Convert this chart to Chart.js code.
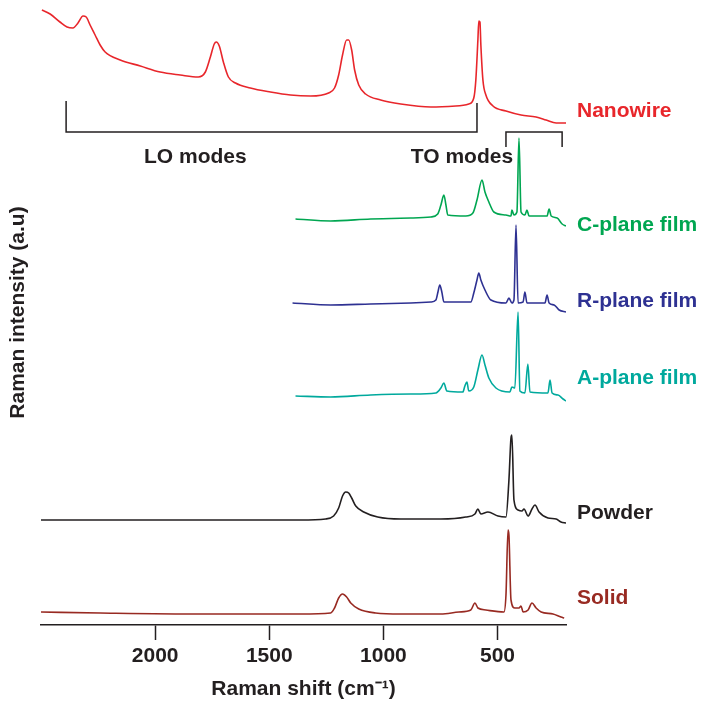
<!DOCTYPE html>
<html>
<head>
<meta charset="utf-8">
<script src="https://cdn.jsdelivr.net/npm/chart.js@4/dist/chart.umd.min.js"></script>
<style>
  html, body { margin: 0; padding: 0; background: #fff; }
  #wrap { width: 702px; height: 703px; }
</style>
</head>
<body>
<div id="wrap"><canvas id="chart"></canvas></div>
<script>
// Raman shift (cm-1) and stacked intensity (a.u.)
const nanowireShift = [2496, 2460, 2417, 2386, 2360, 2338, 2316, 2302, 2285, 2263, 2241, 2219, 2153, 2065, 1978, 1890, 1811, 1780, 1758, 1741, 1732, 1719, 1701, 1679, 1648, 1583, 1495, 1407, 1319, 1240, 1214, 1196, 1179, 1161, 1152, 1139, 1126, 1108, 1078, 1012, 924, 792, 683, 626, 604, 595, 586, 582, 577, 573, 564, 551, 520, 463, 397, 331, 287, 243, 200];
const nanowireInt = [615, 611, 603, 598, 597, 602, 609, 608, 600, 590, 580, 573, 565, 559, 553, 550, 548, 553, 568, 581, 583, 579, 563, 548, 542, 537, 533, 530, 529, 532, 537, 550, 570, 585, 585, 575, 555, 540, 531, 525, 521, 518, 519, 521, 527, 545, 585, 604, 603, 580, 545, 530, 519, 514, 510, 508, 505, 502, 502];

const cPlaneShift = [1385, 1231, 1056, 880, 792, 762, 748, 735, 726, 718, 639, 608, 590, 568, 555, 538, 516, 463, 441, 437, 428, 415, 406, 397, 380, 371, 362, 283, 274, 265, 239, 217, 200];
const cPlaneInt = [406, 404, 406, 407, 408, 411, 420, 430, 420, 410, 409, 412, 425, 445, 433, 423, 413, 410, 409, 415, 410, 413, 487, 413, 410, 415, 409, 409, 416, 409, 407, 401, 399];

const rPlaneShift = [1398, 1231, 1056, 880, 792, 770, 761, 753, 744, 735, 617, 604, 590, 582, 573, 555, 529, 463, 450, 437, 428, 419, 410, 388, 380, 371, 292, 283, 274, 252, 230, 200];
const rPlaneInt = [322, 320, 321, 322, 323, 325, 333, 340, 333, 323, 323, 332, 345, 352, 345, 335, 325, 322, 327, 322, 325, 400, 322, 323, 333, 322, 322, 330, 322, 320, 315, 313];

const aPlaneShift = [1385, 1231, 1056, 880, 770, 748, 735, 722, 652, 643, 634, 626, 604, 586, 568, 555, 538, 507, 446, 437, 424, 410, 402, 380, 367, 358, 279, 270, 261, 235, 213, 200];
const aPlaneInt = [229, 228, 230, 231, 232, 237, 242, 234, 233, 239, 243, 234, 238, 255, 270, 260, 247, 237, 233, 238, 237, 313, 234, 232, 261, 233, 232, 245, 232, 230, 226, 224];

const powderShift = [2500, 2241, 1802, 1363, 1253, 1218, 1196, 1179, 1165, 1152, 1139, 1121, 1086, 1025, 924, 748, 639, 599, 586, 573, 542, 498, 463, 450, 441, 437, 428, 410, 393, 384, 366, 349, 336, 318, 279, 243, 222, 200];
const powderInt = [105, 105, 105, 105, 106, 109, 117, 129, 133, 132, 127, 119, 113, 108, 106, 106, 108, 111, 116, 111, 113, 109, 108, 145, 187, 190, 125, 115, 114, 116, 109, 116, 120, 113, 107, 106, 103, 102];

const solidShift = [2500, 2241, 1802, 1363, 1231, 1214, 1196, 1179, 1161, 1143, 1108, 1034, 924, 748, 669, 617, 599, 586, 551, 472, 463, 454, 450, 441, 424, 406, 397, 388, 366, 349, 331, 309, 257, 222, 208];
const solidInt = [13, 12, 11, 11, 12, 17, 27, 31, 28, 22, 16, 12, 11, 11, 13, 15, 22, 17, 15, 13, 30, 95, 90, 25, 17, 17, 19, 13, 15, 22, 17, 13, 11, 8, 7];

const seriesNames = ['Nanowire', 'C-plane film', 'R-plane film', 'A-plane film', 'Powder', 'Solid'];
const seriesColors = ['#e8262b', '#00a651', '#2e3192', '#00a99d', '#231f20', '#982a22'];
const labelLevels = [514, 400, 324, 247, 112, 27];

// mode brackets and their captions
const loBracketShift = [2390, 2390, 590, 590];
const loBracketInt = [524, 493, 493, 522];
const toBracketShift = [463, 463, 217, 217];
const toBracketInt = [478, 493, 493, 478];
const modeNames = ['LO modes', 'TO modes'];
const modeShift = [1824, 656];
const modeLevel = [468, 468];

const xTicks = [2000, 1500, 1000, 500];
const FONT = '"Liberation Sans", Arial, Helvetica, sans-serif';
const INK = '#231f20';

const pts = (xs, ys) => xs.map((x, i) => ({ x, y: ys[i] }));

const spectra = [
    [nanowireShift, nanowireInt],
    [cPlaneShift, cPlaneInt],
    [rPlaneShift, rPlaneInt],
    [aPlaneShift, aPlaneInt],
    [powderShift, powderInt],
    [solidShift, solidInt],
];

const datasets = spectra.map(([xs, ys], i) => ({
    label: seriesNames[i],
    data: pts(xs, ys),
    borderColor: seriesColors[i],
    borderWidth: 1.6,
    pointRadius: 0,
    cubicInterpolationMode: 'monotone',
}));

[[loBracketShift, loBracketInt], [toBracketShift, toBracketInt]].forEach(([xs, ys]) => {
    datasets.push({ data: pts(xs, ys), borderColor: INK, borderWidth: 1.5, pointRadius: 0, tension: 0 });
});

const textLabels = {
    id: 'textLabels',
    afterDatasetsDraw(chart) {
        const { ctx, chartArea, scales } = chart;
        ctx.save();
        ctx.font = `bold 21px ${FONT}`;
        ctx.textBaseline = 'middle';
        ctx.textAlign = 'left';
        seriesNames.forEach((name, i) => {
            ctx.fillStyle = seriesColors[i];
            ctx.fillText(name, chartArea.right + 11, scales.y.getPixelForValue(labelLevels[i]));
        });
        ctx.fillStyle = INK;
        ctx.textAlign = 'center';
        modeNames.forEach((name, i) => {
            ctx.fillText(name, scales.x.getPixelForValue(modeShift[i]), scales.y.getPixelForValue(modeLevel[i]));
        });
        ctx.restore();
    },
};

new Chart(document.getElementById('chart'), {
    type: 'line',
    data: { datasets },
    options: {
        responsive: true,
        maintainAspectRatio: false,
        animation: false,
        layout: { padding: { top: 0, right: 136, left: 0, bottom: 0 } },
        plugins: { legend: { display: false }, tooltip: { enabled: false } },
        scales: {
            x: {
                type: 'linear',
                reverse: true,
                min: 200,
                max: 2500,
                afterBuildTicks: (scale) => { scale.ticks = xTicks.map((value) => ({ value })); },
                afterFit: (scale) => { scale.height = 78; },
                border: { display: true, color: INK, width: 1.5 },
                grid: { display: true, drawOnChartArea: false, drawTicks: true, tickLength: 15, tickColor: INK, tickWidth: 1.5 },
                ticks: {
                    color: INK,
                    padding: 4,
                    maxRotation: 0,
                    callback: (value) => String(value),
                    font: { family: FONT, size: 21, weight: 'bold' },
                },
                title: {
                    display: true,
                    text: 'Raman shift (cm\u207B\u00B9)',
                    color: INK,
                    padding: { top: 0, bottom: 1 },
                    font: { family: FONT, size: 21, weight: 'bold' },
                },
            },
            y: {
                type: 'linear',
                min: 0,
                max: 625,
                afterFit: (scale) => { scale.width = 41; },
                border: { display: false },
                grid: { display: false },
                ticks: { display: false },
                title: {
                    display: true,
                    text: 'Raman intensity (a.u)',
                    color: INK,
                    padding: { top: 6, bottom: 0 },
                    font: { family: FONT, size: 21, weight: 'bold' },
                },
            },
        },
    },
    plugins: [textLabels],
});
</script>
</body>
</html>
